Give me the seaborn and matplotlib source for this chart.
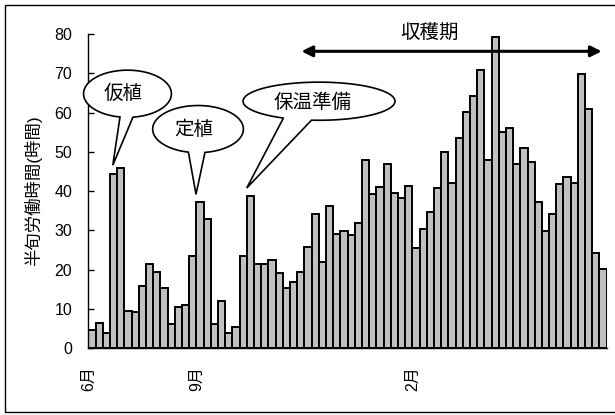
import numpy as np
import pandas as pd
import matplotlib
matplotlib.use("Agg")
import matplotlib.pyplot as plt
from matplotlib.patches import Polygon, Rectangle
import seaborn as sns

# Semi-monthly (5-day period) labour hours, June through the following spring
labour_hours = [
    4.7, 6.5, 4.0, 44.3, 45.9, 9.5, 9.2, 15.9, 21.4, 19.4, 15.4, 6.3,
    10.6, 11.1, 23.6, 37.3, 32.9, 6.3, 12.1, 4.0, 5.5, 23.6, 38.8, 21.4,
    21.4, 22.6, 19.2, 15.4, 16.9, 19.5, 25.8, 34.3, 22.0, 36.2, 29.1, 29.9,
    28.8, 31.8, 47.9, 39.4, 41.1, 46.9, 39.6, 38.3, 41.4, 25.6, 30.3, 34.7,
    40.7, 50.0, 42.1, 53.6, 60.2, 64.2, 70.9, 48.0, 79.2, 55.1, 56.1, 47.0,
    51.0, 47.5, 37.3, 29.9, 34.2, 41.8, 43.6, 42.1, 69.7, 61.0, 24.3, 20.3,
]
period = list(range(len(labour_hours)))

# Month markers: label and the period index where the month begins
month_labels = ["6月", "9月", "2月"]
month_start = [0, 15, 45]

y_ticks = list(range(0, 81, 10))

df = pd.DataFrame({"period": period, "hours": labour_hours})

sns.set_theme(style="white")
plt.rcParams["font.family"] = ["Liberation Sans", "Noto Sans CJK JP"]
plt.rcParams["axes.unicode_minus"] = False

fig = plt.figure(figsize=(6.15, 4.15), dpi=100)
ax = fig.add_axes([0.1436, 0.1607, 0.8429, 0.7573])

sns.barplot(data=df, x="period", y="hours", color="#C0C0C0",
            saturation=1, width=1.0, edgecolor="black", linewidth=1.4,
            ax=ax, zorder=2)

ax.set_xlim(-0.5, len(labour_hours) - 0.5)
ax.set_ylim(0, 80)
ax.set_yticks(y_ticks)
ax.set_yticklabels([str(v) for v in y_ticks], fontsize=11.5, color="black")
ax.set_xticks([s - 0.5 for s in month_start])
ax.set_xticklabels(month_labels, rotation=90, fontsize=11.5, color="black")
ax.tick_params(axis="y", direction="in", length=4, width=1, color="black",
               pad=11.5, left=True)
ax.tick_params(axis="x", length=0, pad=13)
ax.set_xlabel("")
ax.set_ylabel("半旬労働時間(時間)", fontsize=12.5, color="black")
ax.yaxis.set_label_coords(-0.090, 0.5)

for side in ("top", "right"):
    ax.spines[side].set_visible(False)
for side in ("left", "bottom"):
    ax.spines[side].set_color("black")
    ax.spines[side].set_linewidth(1.0)
ax.grid(False)


def bubble(cx, cy, w, h, base_x, tip, label, text_xy, size=14):
    """Speech bubble: ellipse with a pointed tail ending at tip."""
    a, b = w / 2, h / 2
    t_left = -np.arccos((base_x[0] - cx) / a)
    t_right = -np.arccos((base_x[1] - cx) / a)
    ts = np.linspace(t_right, t_left + 2 * np.pi, 240)
    pts = np.column_stack([cx + a * np.cos(ts), cy + b * np.sin(ts)])
    pts = np.vstack([pts, tip])
    ax.add_patch(Polygon(pts, closed=True, facecolor="white",
                         edgecolor="black", linewidth=1.2, zorder=5,
                         clip_on=False))
    ax.text(text_xy[0], text_xy[1], label, fontsize=size, ha="center",
            va="center", zorder=6, color="black",
            family=["Noto Sans CJK JP", "DejaVu Sans"])


bubble(4.94, 64.8, 12.2, 12.0, (3.9, 5.7), (2.9, 46.6), "仮植", (4.4, 65.0))
bubble(14.74, 55.8, 12.6, 12.0, (13.4, 15.7), (14.46, 39.2), "定植", (14.1, 55.8))
bubble(31.54, 62.9, 21.1, 9.7, (26.6, 30.5), (21.5, 40.8), "保温準備", (30.7, 62.7))

# Harvest period
ax.annotate("", xy=(70.8, 75.6), xytext=(29.1, 75.6),
            arrowprops=dict(arrowstyle="<|-|>", lw=2.2, color="black",
                            mutation_scale=16, shrinkA=0, shrinkB=0),
            annotation_clip=False, zorder=7)
ax.text(46.9, 80.3, "収穫期", fontsize=14, ha="center", va="center",
        color="black", family=["Noto Sans CJK JP", "DejaVu Sans"],
        clip_on=False)

# Outer frame
fig.add_artist(Rectangle((5 / 615, 3.3 / 415), 1.0, 406.5 / 415,
                         transform=fig.transFigure, fill=False,
                         edgecolor="black", linewidth=1.0))

fig.savefig("out.png", dpi=100)
